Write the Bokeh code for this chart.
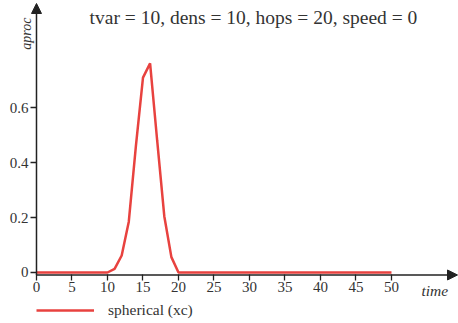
from bokeh.plotting import figure
from bokeh.models import Range1d, FixedTicker, Arrow, NormalHead, Label, Legend, LegendItem
from bokeh.embed import file_html
from bokeh.resources import INLINE
import math

# ---- data ----
time = list(range(0, 51))
aproc = [0.0] * 11 + [0.013, 0.062, 0.185, 0.46, 0.71, 0.762, 0.48, 0.205, 0.056] + [0.0] * 31
series_name = "spherical (xc)"
title_text = "tvar = 10, dens = 10, hops = 20, speed = 0"
x_label = "time"
y_label = "aproc"
x_ticks = [0, 5, 10, 15, 20, 25, 30, 35, 40, 45, 50]
y_ticks = [0, 0.2, 0.4, 0.6]
y_tick_labels = {0: "0", 0.2: "0.2", 0.4: "0.4", 0.6: "0.6"}

SERIF = "'Liberation Serif', 'DejaVu Serif', serif"
TXT = "#333333"
AX = "#222222"
RED = "#e8423f"

# pixel scale: x 7.1 px / unit with t=0 at 36 px; y 274.5 px / unit with 0 at 272 px
x0, x1 = -5.07, 59.44
y0, y1 = -0.1858, 0.9909
axis_y = -0.009

p = figure(width=458, height=323, output_backend="svg", toolbar_location=None,
           x_range=Range1d(x0, x1), y_range=Range1d(y0, y1),
           min_border=0, title=None)
p.outline_line_color = None
p.xgrid.visible = False
p.ygrid.visible = False

for ax in (p.xaxis[0], p.yaxis[0]):
    ax.axis_line_color = None
    ax.major_tick_line_color = AX
    ax.major_tick_line_width = 1.3
    ax.major_tick_in = 0
    ax.major_tick_out = 6
    ax.minor_tick_line_color = None
    ax.major_label_text_font = SERIF
    ax.major_label_text_font_size = "15px"
    ax.major_label_text_color = TXT

p.xaxis[0].ticker = FixedTicker(ticks=x_ticks)
p.xaxis[0].fixed_location = axis_y
p.xaxis[0].major_label_standoff = 1
p.yaxis[0].ticker = FixedTicker(ticks=y_ticks)
p.yaxis[0].major_label_overrides = y_tick_labels
p.yaxis[0].fixed_location = 0
p.yaxis[0].major_label_standoff = 2

# axis lines with arrow heads
p.add_layout(Arrow(x_start=0, y_start=axis_y, x_end=0, y_end=0.98,
                   line_color=AX, line_width=1.5,
                   end=NormalHead(size=10, fill_color=AX, line_color=AX)))
p.add_layout(Arrow(x_start=0, y_start=axis_y, x_end=59.3, y_end=axis_y,
                   line_color=AX, line_width=1.5,
                   end=NormalHead(size=10, fill_color=AX, line_color=AX)))

r = p.line(time, aproc, line_color=RED, line_width=2.5)

p.add_layout(Label(x=30.56, y=0.930, text=title_text, text_align="center", text_baseline="alphabetic",
                   text_font=SERIF, text_font_size="19.5px", text_color=TXT))
p.add_layout(Label(x=-1.34, y=0.929, text=y_label, angle=math.pi / 2, text_align="right",
                   text_baseline="alphabetic", text_font=SERIF, text_font_style="italic",
                   text_font_size="14px", text_color=TXT))
p.add_layout(Label(x=54.23, y=-0.0674, text=x_label, text_align="left", text_baseline="alphabetic",
                   text_font=SERIF, text_font_style="italic", text_font_size="15.5px", text_color=TXT))

legend = Legend(items=[LegendItem(label=series_name, renderers=[r])], location=(36, 4),
                glyph_width=58, glyph_height=16, label_standoff=14, padding=0, margin=0,
                border_line_color=None, background_fill_alpha=0,
                label_text_font=SERIF, label_text_font_size="15.5px", label_text_color=TXT)
p.add_layout(legend)

open("out.html", "w").write(file_html(p, INLINE))
